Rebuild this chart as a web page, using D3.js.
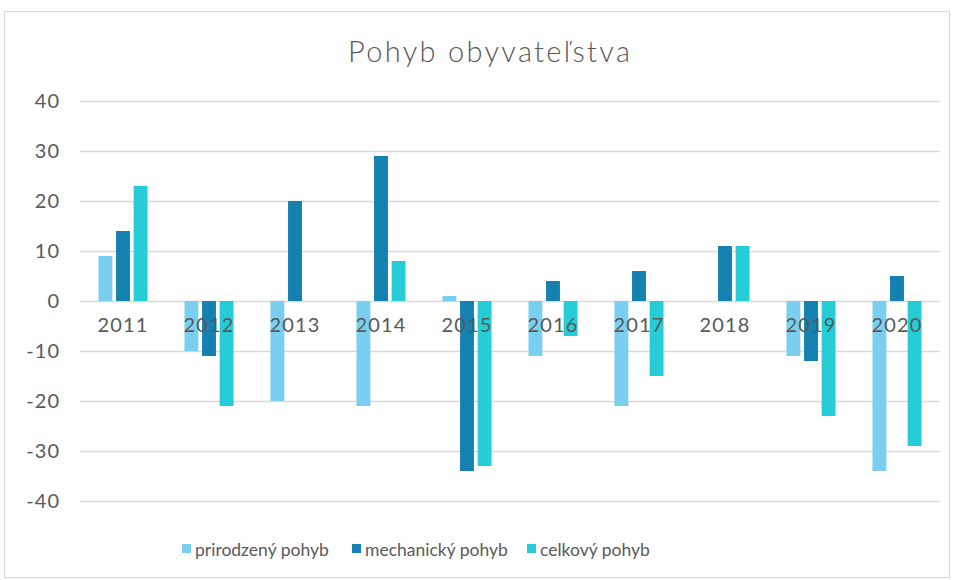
<!DOCTYPE html>
<html><head><meta charset="utf-8">
<script src="https://cdn.jsdelivr.net/npm/d3@7"></script>
<style>body{margin:0;background:#fff}svg{display:block}</style>
</head><body><svg id="c" width="954" height="580"></svg>
<script>
const years = ["2011","2012","2013","2014","2015","2016","2017","2018","2019","2020"];
const seriesNames = ["prirodzený pohyb","mechanický pohyb","celkový pohyb"];
const prirodzeny = [9,-10,-20,-21,1,-11,-21,0,-11,-34];
const mechanicky = [14,-11,20,29,-34,4,6,11,-12,5];
const celkovy = [23,-21,0,8,-33,-7,-15,11,-23,-29];
const yTicks = [40,30,20,10,0,-10,-20,-30,-40];
const colors = ["#7ACFF0","#1581B0","#26CDD7"];
const title = "Pohyb obyvateľstva";

const svg = d3.select("#c");
const font = "Lato, 'DejaVu Sans', sans-serif";
svg.append("rect").attr("x",4.5).attr("y",11.5).attr("width",945).attr("height",566)
  .attr("fill","#fff").attr("stroke","#d9d9d9");

svg.append("text").attr("x",489).attr("y",62).attr("text-anchor","middle")
  .attr("font-family",font).attr("font-size",29).attr("font-weight",300).attr("fill","#595959")
  .attr("textLength",282).attr("lengthAdjust","spacing").text(title);

const x = d3.scaleBand().domain(years).range([80,940]);
const y = d3.scaleLinear().domain([-40,40]).range([501,101]);
const series = [prirodzeny, mechanicky, celkovy];
const xs = d3.scaleBand().domain([0,1,2]).range([0,x.bandwidth()]).paddingInner(0.21).paddingOuter(1.05);

const g = svg.append("g");
g.selectAll("line.grid").data(yTicks).enter().append("line")
  .attr("x1",80).attr("x2",940).attr("y1",d=>y(d)+0.5).attr("y2",d=>y(d)+0.5)
  .attr("stroke","#d9d9d9").attr("stroke-width",1.5);

series.forEach((vals,si)=>{
  g.selectAll(null).data(vals).enter().append("rect")
    .attr("x",(d,i)=>x(years[i])+xs(si))
    .attr("width",xs.bandwidth())
    .attr("y",d=>y(Math.max(0,d)))
    .attr("height",d=>Math.abs(y(d)-y(0)))
    .attr("fill",colors[si]);
});

const yAxis = d3.axisLeft(y).tickValues(yTicks).tickSize(0).tickPadding(20)
  .tickFormat(d=>String(d));
const ya = svg.append("g").attr("transform","translate(80,0.5)").call(yAxis);
ya.select(".domain").remove();
ya.selectAll("text").attr("font-family",font).attr("font-size",20).attr("letter-spacing",1)
  .attr("fill","#595959");

const xAxis = d3.axisBottom(x).tickSize(0).tickPadding(17);
const xa = svg.append("g").attr("transform","translate(0,"+y(0)+")").call(xAxis);
xa.select(".domain").remove();
xa.selectAll("text").attr("font-family",font).attr("font-size",20).attr("letter-spacing",1.2)
  .attr("fill","#595959");

const legX = [182,352,527];
const leg = svg.append("g");
seriesNames.forEach((n,i)=>{
  leg.append("rect").attr("x",legX[i]).attr("y",544).attr("width",9).attr("height",9).attr("fill",colors[i]);
  leg.append("text").attr("x",legX[i]+13).attr("y",556).attr("font-family",font).attr("font-size",17.5)
    .attr("fill","#595959").text(n);
});
</script></body></html>
